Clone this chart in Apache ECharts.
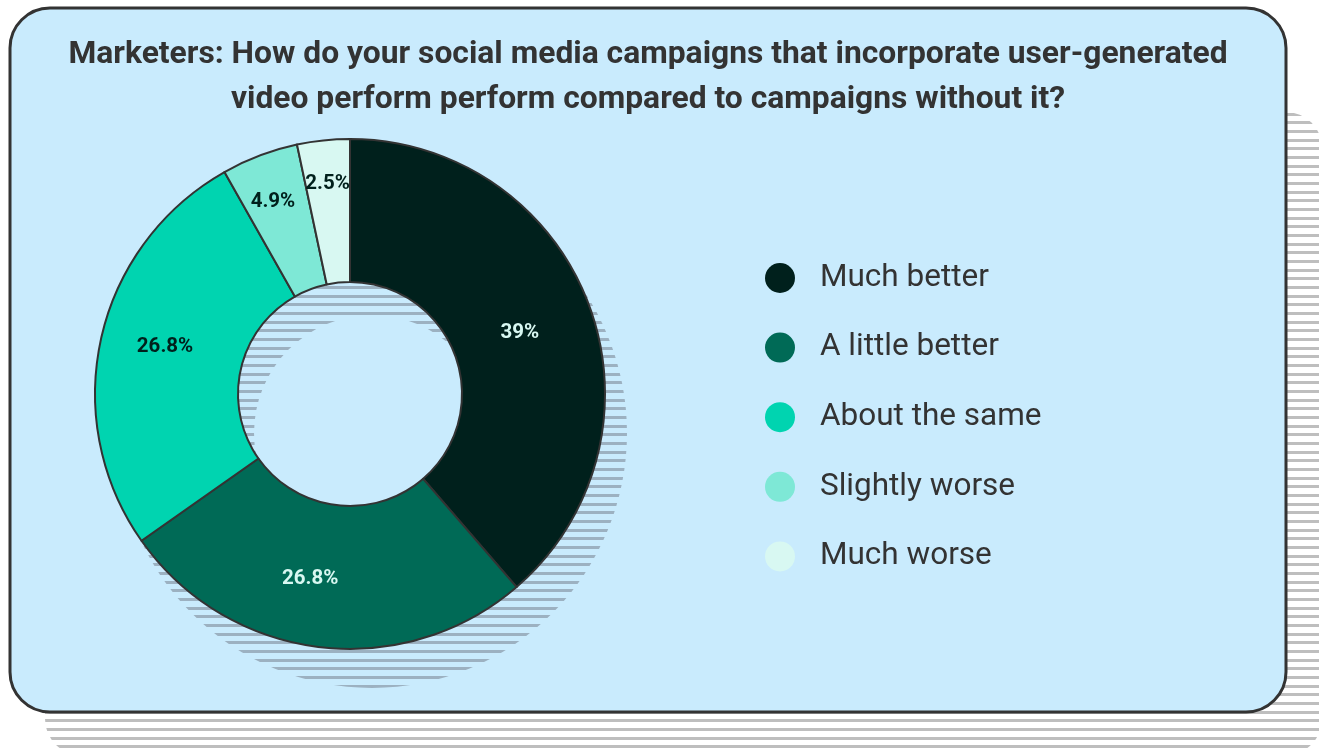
<!DOCTYPE html>
<html>
<head>
<meta charset="utf-8">
<style>
  html, body { margin: 0; padding: 0; background: #ffffff; }
  #chart { width: 1319px; height: 749px; }
</style>
<script src="https://cdn.jsdelivr.net/npm/echarts@6/dist/echarts.min.js"></script>
</head>
<body>
<div id="chart"></div>
<script>
// Survey answers and their shares (%)
const categories = ['Much better', 'A little better', 'About the same', 'Slightly worse', 'Much worse'];
const shares = [39, 26.8, 26.8, 4.9, 2.5];
const sliceColors = ['#00201c', '#006a56', '#00d4b0', '#7ee8d6', '#d8f8f2'];
const labelColors = ['#d8f8f2', '#d8f8f2', '#00201c', '#00201c', '#00201c'];
const titleText = 'Marketers: How do your social media campaigns that incorporate user-generated\nvideo perform perform compared to campaigns without it?';

// Horizontal hatch used for the drop shadows
function stripes(color) {
  const c = document.createElement('canvas');
  c.width = 8; c.height = 26;
  const g = c.getContext('2d');
  g.fillStyle = color;
  [0, 9, 17].forEach(function (y) { g.fillRect(0, y, 8, 3); });
  return { image: c, repeat: 'repeat' };
}

const chart = echarts.init(document.getElementById('chart'), null, { renderer: 'canvas' });

const center = [350, 394];
const radius = [112, 255];

chart.setOption({
  animation: false,
  graphic: [
    {
      type: 'rect', z: -10,
      shape: { x: 45, y: 112, width: 1277, height: 643, r: 36 },
      style: { fill: stripes('#bebebe') }
    },
    {
      type: 'rect', z: -5,
      shape: { x: 10, y: 8, width: 1276, height: 704, r: 40 },
      style: { fill: '#c9ebfd', stroke: '#333333', lineWidth: 3 }
    },
    {
      type: 'text', z: 10,
      x: 648, y: 33,
      style: {
        text: titleText,
        align: 'center', verticalAlign: 'top',
        font: 'bold 31.8px Roboto',
        lineHeight: 45,
        fill: '#333333'
      }
    }
  ],
  legend: {
    data: categories,
    orient: 'vertical',
    left: 765, top: 262,
    padding: 0,
    icon: 'circle',
    itemWidth: 30, itemHeight: 30,
    itemGap: 37.6,
    itemStyle: { borderWidth: 0 },
    selectedMode: false,
    textStyle: {
      fontFamily: 'Roboto', fontSize: 31.5, color: '#333333',
      lineHeight: 30, padding: [0, 0, 0, 20]
    }
  },
  series: [
    {
      // hatched shadow ring behind the donut
      type: 'pie', silent: true, z: 1,
      center: [372, 433], radius: [118, 255],
      label: { show: false }, labelLine: { show: false },
      itemStyle: { color: stripes('#9cb1c1') },
      data: [{ value: 1, name: 'shadow' }]
    },
    {
      type: 'pie', z: 2,
      center: center, radius: radius,
      startAngle: 90, clockwise: true,
      minAngle: 12,
      avoidLabelOverlap: false,
      itemStyle: { borderColor: '#333333', borderWidth: 2 },
      label: {
        show: true, position: 'inside',
        fontFamily: 'Roboto', fontWeight: 'bold', fontSize: 20.5,
        formatter: function (p) { return p.value + '%'; }
      },
      labelLine: { show: false },
      labelLayout: function (p) {
        const shift = [[-5, 4], [-17, 0], [-3, -6], [-11, -18], [-3, -25]][p.dataIndex];
        return { dx: shift[0], dy: shift[1] };
      },
      data: categories.map(function (name, i) {
        return {
          name: name, value: shares[i],
          itemStyle: { color: sliceColors[i] },
          label: { color: labelColors[i] }
        };
      })
    }
  ]
});
</script>
</body>
</html>
